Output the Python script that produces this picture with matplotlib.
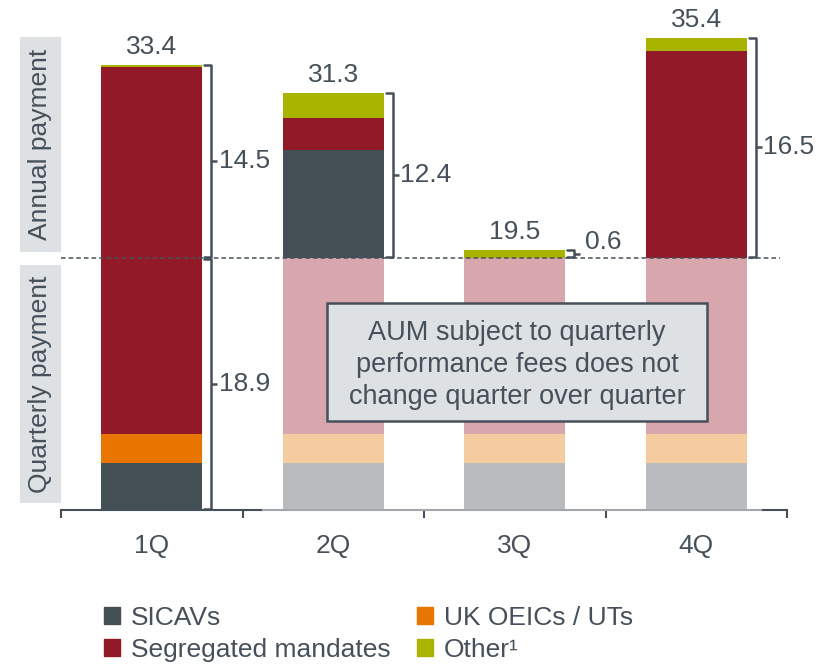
import matplotlib.pyplot as plt
from matplotlib.patches import Patch, Rectangle
from matplotlib.transforms import blended_transform_factory

plt.rcParams['font.family'] = ['Liberation Sans', 'DejaVu Sans']

# quarters and values (EUR m)
quarters = ['1Q', '2Q', '3Q', '4Q']
quarterly_sicav = 3.5
quarterly_ukoeic = 2.2
quarterly_seg = 13.2
quarterly_total = 18.9
annual_sicav = [0.0, 8.1, 0.0, 0.0]
annual_seg = [14.3, 2.4, 0.0, 15.5]
annual_other = [0.2, 1.9, 0.6, 1.0]
annual_totals = [14.5, 12.4, 0.6, 16.5]
totals = [33.4, 31.3, 19.5, 35.4]

TXT = '#46505A'
FS = 19
c_sicav, c_uk, c_seg, c_other = '#454F56', '#E87500', '#921927', '#A9B400'
f_sicav, f_uk, f_seg = '#B8BCBF', '#F5CBA0', '#D8A7AE'

fig = plt.figure(figsize=(8.34, 6.68), dpi=100)
ax = fig.add_axes([61/834, 158/668, 726/834, 510/668])
ax.set_xlim(-0.5, 3.5)
ax.set_ylim(0, 38.25)
x = list(range(len(quarters)))
w = 0.556

# quarterly part: solid for 1Q, faded for the others
for i in x:
    solid = i == 0
    b = 0
    for v, cs, cf in [(quarterly_sicav, c_sicav, f_sicav),
                      (quarterly_ukoeic, c_uk, f_uk),
                      (quarterly_seg, c_seg, f_seg)]:
        ax.bar(i, v, w, bottom=b, color=cs if solid else cf, linewidth=0)
        b += v

# annual part
bottom = [quarterly_total] * 4
for vals, c in [(annual_sicav, c_sicav), (annual_seg, c_seg), (annual_other, c_other)]:
    ax.bar(x, vals, w, bottom=bottom, color=c, linewidth=0)
    bottom = [b + v for b, v in zip(bottom, vals)]

for i, t in enumerate(totals):
    ax.text(i, t + 0.45, f'{t:.1f}', ha='center', va='bottom', fontsize=FS, color=TXT)

ax.plot([-0.5, 3.46], [quarterly_total] * 2, ls=(0, (3, 2)), color=TXT, lw=1.1)


def bracket(xc, y0, y1, label, dx=0.0, dy=0.0):
    xs, xv, xt = xc + 0.289, xc + 0.328, xc + 0.36
    ax.plot([xs, xv, xv, xs], [y1, y1, y0, y0], color=TXT, lw=1.8,
            solid_joinstyle='round', solid_capstyle='round')
    ym = (y0 + y1) / 2
    ax.plot([xv, xt], [ym, ym], color=TXT, lw=1.8, solid_capstyle='butt')
    ax.text(xt + 0.008 + dx, ym + dy, label, ha='left', va='center', fontsize=FS, color=TXT)


for i in x:
    if i == 2:
        continue
    bracket(i, quarterly_total + 0.1, totals[i], f'{annual_totals[i]:.1f}')
bracket(0, 0.1, quarterly_total - 0.1, f'{quarterly_total:.1f}')
bracket(2, quarterly_total + 0.05, totals[2], f'{annual_totals[2]:.1f}', dx=0.02, dy=0.85)

# note box
ax.add_patch(Rectangle((0.966, 6.675), 2.093, 8.85, facecolor='#DEE1E4',
                       edgecolor=TXT, lw=1.8, zorder=5))
ax.text(2.012, 10.85, 'AUM subject to quarterly\nperformance fees does not\nchange quarter over quarter',
        ha='center', va='center', fontsize=19.5, color=TXT, linespacing=1.3, zorder=6)

# side labels
tr = blended_transform_factory(ax.transAxes, ax.transData)
for y0, y1, lab in [(19.35, 35.5, 'Annual payment'), (0.5, 18.4, 'Quarterly payment')]:
    ax.add_patch(Rectangle((-0.0565, y0), 0.0565, y1 - y0, transform=tr,
                           facecolor='#DEE1E4', edgecolor='none', clip_on=False))
    ax.text(-0.029, (y0 + y1) / 2, lab, transform=tr, rotation=90, ha='center',
            va='center', fontsize=FS, color=TXT)

# axis
for s in ax.spines.values():
    s.set_visible(False)
ax.set_yticks([])
ax.plot([-0.5, 0.613], [0, 0], color=TXT, lw=1.5, clip_on=False)
ax.plot([0.613, 3.37], [0, 0], color='#A3A7AB', lw=1.5, clip_on=False)
ax.plot([3.37, 3.5], [0, 0], color=TXT, lw=1.5, clip_on=False)
ax.set_xticks(x)
ax.set_xticklabels(quarters, fontsize=FS, color=TXT)
ax.tick_params(axis='x', which='major', length=0, pad=17)
ax.set_xticks([-0.5, 0.5, 1.5, 2.5, 3.5], minor=True)
ax.tick_params(axis='x', which='minor', length=6, width=1.5, color=TXT)

handles = [Patch(color=c_sicav, label='SICAVs'),
           Patch(color=c_seg, label='Segregated mandates'),
           Patch(color=c_uk, label='UK OEICs / UTs'),
           Patch(color=c_other, label='Other¹')]
leg = fig.legend(handles=handles, ncol=2, loc='upper left', bbox_to_anchor=(104/834, 1 - 606/668),
                 frameon=False, fontsize=FS, handlelength=0.6, handleheight=0.6,
                 handletextpad=0.42, labelspacing=0.3, columnspacing=1.0,
                 borderpad=0, borderaxespad=0)
for t in leg.get_texts():
    t.set_color(TXT)

fig.savefig('out.png', dpi=100)
